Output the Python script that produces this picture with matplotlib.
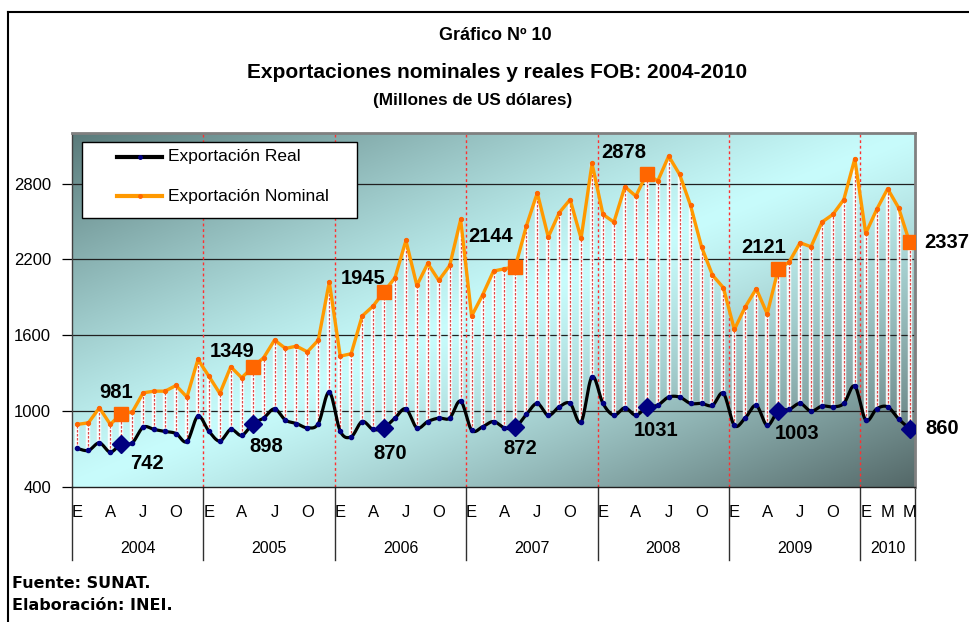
import numpy as np
import matplotlib
matplotlib.use("Agg")
import matplotlib.pyplot as plt
from matplotlib.lines import Line2D
from matplotlib.patches import Rectangle
import matplotlib.transforms as mtransforms

plt.rcParams['font.family'] = ['Liberation Sans', 'DejaVu Sans']

# ---------------- data ----------------
years = ["2004", "2005", "2006", "2007", "2008", "2009", "2010"]
months_per_year = [12, 12, 12, 12, 12, 12, 5]

nominal = [
    895, 908, 1026, 895, 981, 992, 1145, 1158, 1158, 1203, 1111, 1409,
    1277, 1140, 1351, 1264, 1349, 1422, 1562, 1496, 1514, 1469, 1562, 2023,
    1435, 1454, 1752, 1831, 1945, 2055, 2350, 1994, 2168, 2034, 2152, 2516,
    1752, 1918, 2108, 2126, 2144, 2464, 2727, 2377, 2569, 2674, 2366, 2959,
    2556, 2495, 2775, 2701, 2878, 2820, 3017, 2872, 2627, 2300, 2076, 1976,
    1646, 1825, 1968, 1770, 2121, 2179, 2332, 2300, 2495, 2556, 2674, 2996,
    2406, 2595, 2759, 2609, 2337,
]
real = [
    705, 689, 749, 676, 742, 749, 873, 855, 839, 823, 760, 960,
    842, 763, 855, 808, 898, 945, 1018, 929, 902, 868, 902, 1150,
    842, 797, 918, 855, 870, 945, 1018, 868, 918, 945, 945, 1079,
    850, 876, 918, 868, 872, 974, 1061, 966, 1034, 1061, 913, 1272,
    1061, 968, 1026, 968, 1031, 1047, 1111, 1111, 1061, 1061, 1045, 1140,
    887, 947, 1045, 887, 1003, 1013, 1061, 1000, 1040, 1034, 1061, 1198,
    929, 1018, 1034, 939, 860,
]
highlight_idx = [4, 16, 28, 40, 52, 64, 76]          # May of each year
month_tick_idx = [0, 3, 6, 9, 12, 15, 18, 21, 24, 27, 30, 33, 36, 39, 42, 45,
                  48, 51, 54, 57, 60, 63, 66, 69, 72, 74, 76]
month_tick_lbl = ["E", "A", "J", "O"] * 6 + ["E", "M", "M"]
y_ticks = [400, 1000, 1600, 2200, 2800]

# label offsets (pixels) and alignment for highlighted values
nom_off = [(-5, 21), (-21, 16), (-21, 13), (-25, 30), (-23, 21), (-15, 22), (15, 0)]
real_off = [(26, -20), (14, -22), (6, -26), (5, -21), (9, -23), (19, -23), (16, 0)]
lbl_ha = ["center"] * 6 + ["left"]

# ---------------- figure ----------------
W, H = 969, 622
fig = plt.figure(figsize=(W / 100, H / 100), dpi=100)
fig.patch.set_facecolor("white")


def fx(px):
    return px / W


def fy(py):
    return 1 - py / H


ax = fig.add_axes([fx(72), fy(487), fx(915) - fx(72), fy(133) - fy(487)])
n = len(nominal)
x = np.arange(n)
nom = np.array(nominal, float)
rea = np.array(real, float)
ax.set_xlim(-0.5, n - 0.5)
ax.set_ylim(400, 3200)

# gradient background
nx, ny = 400, 200
XX, YY = np.meshgrid(np.linspace(0, 1, nx), np.linspace(0, 1, ny))
u = (XX + YY) / 2
f = np.clip(np.abs(u - 0.5) * 2, 0, 1) ** 1.2
light = np.array([200, 252, 252]) / 255
dark_tl = np.array([90, 122, 122]) / 255
dark_br = np.array([84, 104, 104]) / 255
dark = np.where((u < 0.5)[..., None], dark_tl, dark_br)
img = light * (1 - f[..., None]) + dark * f[..., None]
ax.imshow(img, extent=(-0.5, n - 0.5, 400, 3200), origin="upper",
          aspect="auto", zorder=0, interpolation="bilinear")

for yv in y_ticks[1:]:
    ax.axhline(yv, color="#202020", lw=0.9, zorder=1)

# year boundaries
bounds = np.cumsum(months_per_year)[:-1] - 0.5
for b in bounds:
    ax.axvline(b, color="#FF3030", lw=1.0, ls=(0, (2, 2)), zorder=2)

# drop lines
ax.vlines(x, rea, nom, colors="white", lw=3.2, alpha=0.9, zorder=3)
ax.vlines(x, rea, nom, colors="#E04848", lw=0.9, linestyles=(0, (2, 1.2)), zorder=4)


# smoothed real line (Catmull-Rom through the data points)
def catmull_rom(xs, ys, steps=14):
    px, py = [], []
    m = len(xs)
    for i in range(m - 1):
        x0, y0 = (xs[i - 1], ys[i - 1]) if i > 0 else (xs[i], ys[i])
        x1, y1 = xs[i], ys[i]
        x2, y2 = xs[i + 1], ys[i + 1]
        x3, y3 = (xs[i + 2], ys[i + 2]) if i + 2 < m else (xs[i + 1], ys[i + 1])
        t = np.linspace(0, 1, steps, endpoint=False)
        for a0, a1, a2, a3, out in ((x0, x1, x2, x3, px), (y0, y1, y2, y3, py)):
            out.extend(0.5 * ((2 * a1) + (-a0 + a2) * t +
                              (2 * a0 - 5 * a1 + 4 * a2 - a3) * t ** 2 +
                              (-a0 + 3 * a1 - 3 * a2 + a3) * t ** 3))
    px.append(xs[-1])
    py.append(ys[-1])
    return np.array(px), np.array(py)


sx, sy = catmull_rom(x.astype(float), rea)
ax.plot(sx, sy, color="black", lw=2.3, zorder=5, solid_capstyle="round")
ax.plot(x, rea, ls="none", marker="o", ms=3, color="#000080", zorder=6)

ax.plot(x, nom, color="#FF9900", lw=2.4, zorder=5, solid_joinstyle="round")
ax.plot(x, nom, ls="none", marker="o", ms=2.8, color="#FF6600", zorder=6)

hi = np.array(highlight_idx)
ax.plot(x[hi], nom[hi], ls="none", marker="s", ms=10, color="#FF6600", zorder=7)
ax.plot(x[hi], rea[hi], ls="none", marker="D", ms=9.5, color="#000080", zorder=7)

for k, i in enumerate(highlight_idx):
    ax.annotate(f"{int(nominal[i])}", (x[i], nom[i]), xytext=nom_off[k],
                textcoords="offset pixels", ha=lbl_ha[k], va="center",
                fontsize=14.5, fontweight="bold", color="black", zorder=8,
                annotation_clip=False)
    ax.annotate(f"{int(real[i])}", (x[i], rea[i]), xytext=real_off[k],
                textcoords="offset pixels", ha=lbl_ha[k], va="center",
                fontsize=14.5, fontweight="bold", color="black", zorder=8,
                annotation_clip=False)

# axes styling
for s in ["top", "right"]:
    ax.spines[s].set_color("#808080")
    ax.spines[s].set_linewidth(2)
ax.spines["left"].set_color("#404040")
ax.spines["bottom"].set_color("#202020")
ax.spines["left"].set_linewidth(1)
ax.spines["bottom"].set_linewidth(1)
ax.set_yticks(y_ticks)
ax.set_yticklabels([str(v) for v in y_ticks])
ax.tick_params(axis="y", length=7, width=0.9, pad=8, labelsize=12, colors="black")
ax.set_xticks([])

# category axis (months & years)
trans = mtransforms.blended_transform_factory(ax.transData, ax.transAxes)
ax_h = 487 - 133
for i, lbl in zip(month_tick_idx, month_tick_lbl):
    ax.text(i, -(517 - 487) / ax_h, lbl, transform=trans, ha="center",
            va="baseline", fontsize=12, clip_on=False)
edges = np.concatenate([[-0.5], np.cumsum(months_per_year) - 0.5])
for j, yr in enumerate(years):
    ax.text((edges[j] + edges[j + 1]) / 2, -(553 - 487) / ax_h, yr,
            transform=trans, ha="center", va="baseline", fontsize=11.5,
            clip_on=False)
for e in edges:
    ax.plot([e, e], [0, -(560 - 487) / ax_h], transform=trans, color="#303030",
            lw=1, clip_on=False)

# legend (manual)
fig.add_artist(Rectangle((fx(82), fy(218)), fx(357) - fx(82), fy(142) - fy(218),
                         transform=fig.transFigure, facecolor="white",
                         edgecolor="black", lw=1, zorder=10))
for yy, col, dot, lab in [(157, "black", "#000080", "Exportación Real"),
                          (196, "#FF9900", "#FF6600", "Exportación Nominal")]:
    fig.add_artist(Line2D([fx(117), fx(162)], [fy(yy), fy(yy)],
                          transform=fig.transFigure, color=col, lw=3, zorder=11))
    fig.add_artist(Line2D([fx(139.5)], [fy(yy)], transform=fig.transFigure,
                          marker="o", ms=2.5, color=dot, ls="none", zorder=12))
    fig.text(fx(168), fy(yy), lab, ha="left", va="center", fontsize=12.5,
             zorder=12)

# titles
fig.text(fx(495), fy(35), "Gráfico Nº 10", ha="center", va="center",
         fontsize=13, fontweight="bold")
fig.text(fx(497), fy(72), "Exportaciones nominales y reales FOB: 2004-2010",
         ha="center", va="center", fontsize=15, fontweight="bold")
fig.text(fx(473), fy(101), "(Millones de US dólares)", ha="center",
         va="center", fontsize=12.3, fontweight="bold")

# source notes
fig.text(fx(12), fy(583), "Fuente: SUNAT.", ha="left", va="center",
         fontsize=11.5, fontweight="bold", family=["DejaVu Sans"])
fig.text(fx(12), fy(605), "Elaboración: INEI.", ha="left", va="center",
         fontsize=11.5, fontweight="bold", family=["DejaVu Sans"])

# outer frame (top and left)
fig.add_artist(Line2D([fx(8), 1], [fy(12), fy(12)], transform=fig.transFigure,
                      color="black", lw=1.5))
fig.add_artist(Line2D([fx(8), fx(8)], [fy(12), 0], transform=fig.transFigure,
                      color="black", lw=1.5))

fig.savefig("out.png", dpi=100)
